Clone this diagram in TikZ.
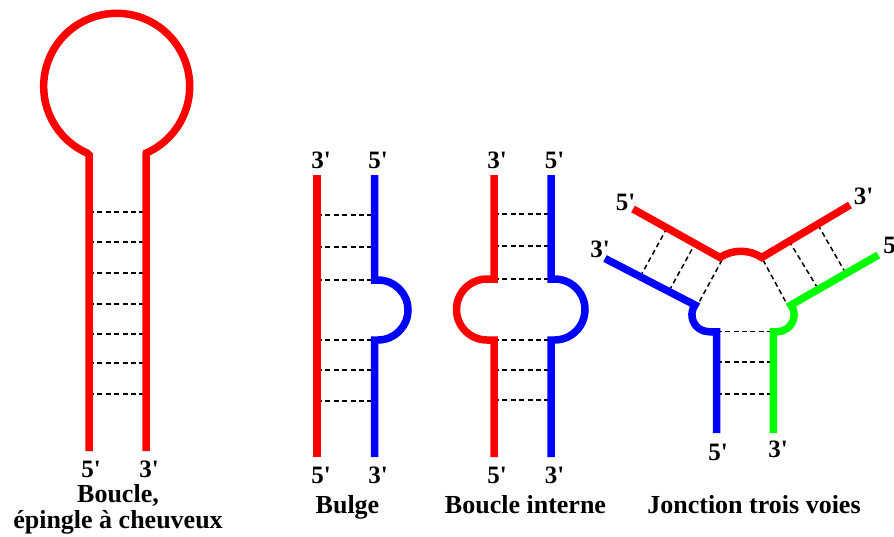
\documentclass[tikz,border=0pt]{standalone}
\usepackage{fontspec}
\setmainfont{Liberation Serif}
\newcommand{\fiveend}{5\textquotesingle}
\newcommand{\threeend}{3\textquotesingle}

\begin{document}
\begin{tikzpicture}[x=1pt, y=1pt, yscale=-1,
    strand/.style={line width=7.5pt},
    pair/.style={line width=1.5pt, dash pattern=on 5pt off 3.4pt},
    lab/.style={font=\fontsize{25}{26}\selectfont\bfseries, anchor=base, inner sep=0pt},
    titre/.style={font=\fontsize{26}{28}\selectfont\bfseries, anchor=base, inner sep=0pt}]
    \useasboundingbox (0,0) rectangle (894,536);

    % boucle, epingle a cheuveux
    \foreach \y in {212,242,273,304,334,363,394}
    \draw[pair] (89,\y) -- (146,\y);
    \draw[strand,red] (89,451) -- (89,155) -- (87,153) arc[start angle=114, end angle=426, radius=73] -- (146,155) -- (146,451);
    \node[lab] (ep5) at (91,477) {\fiveend};
    \node[lab] (ep3) at (149,477) {\threeend};
    \node[titre] (eptitre) at (118,502) {Boucle,};
    \node[titre] (eptitrebis) at (118,528) {épingle à cheuveux};

    % bulge
    \foreach \y in {215,247,280,340,370,401}
    \draw[pair] (317,\y) -- (374.5,\y);
    \draw[strand,red] (317,175) -- (317,457);
    \draw[strand,blue] (374.5,175) -- (374.5,280) -- (378,280) arc[start angle=-90, end angle=90, radius=30] -- (374.5,340) -- (374.5,457);
    \node[lab] (bu3) at (321,168) {\threeend};
    \node[lab] (bu5) at (378,168) {\fiveend};
    \node[lab] (bu5b) at (321,483) {\fiveend};
    \node[lab] (bu3b) at (378,483) {\threeend};
    \node[titre] (butitre) at (347.5,513) {Bulge};

    % boucle interne
    \foreach \y in {214,246,279,340,370,400}
    \draw[pair] (494,\y) -- (551,\y);
    \draw[strand,red] (494,175) -- (494,279) -- (487,279) arc[start angle=270, end angle=90, radius=30.5] -- (494,340) -- (494,457);
    \draw[strand,blue] (551,175) -- (551,279) -- (554.5,279) arc[start angle=-90, end angle=90, radius=30.5] -- (551,340) -- (551,457);
    \node[lab] (bi3) at (497,168) {\threeend};
    \node[lab] (bi5) at (554.5,168) {\fiveend};
    \node[lab] (bi5b) at (497,483) {\fiveend};
    \node[lab] (bi3b) at (554.5,483) {\threeend};
    \node[titre] (bititre) at (525.5,513) {Boucle interne};

    % jonction trois voies
    \foreach \xa/\ya/\xb/\yb in {667/228/640/277, 696/242/669/291, 722/260/697/306,
                                 789/241/817/287, 818/225/845/272, 763/260/788/306,
                                 716.7/331.7/773.3/331.7, 716.7/362/773.3/362, 716.7/394/773.3/394}
    \draw[pair] (\xa,\ya) -- (\xb,\yb);
    \draw[strand,red] (633,209) -- (720,257.5) arc[start angle=236.7, end angle=303.3, radius=38] -- (850,205);
    \draw[strand,blue] (605,258.5) -- (695,305) arc[start angle=215, end angle=90, radius=17] -- (716.7,331.75) -- (716.7,433);
    \draw[strand,green] (878.3,255) -- (791,305) arc[start angle=-35, end angle=90, radius=17] -- (773.3,331.75) -- (773.3,433);
    \node[lab] (jr5) at (625.5,210) {\fiveend};
    \node[lab] (jb3) at (600,257) {\threeend};
    \node[lab] (jr3) at (863.5,204) {\threeend};
    \node[lab] (jg5) at (893,253) {\fiveend};
    \node[lab] (jb5) at (718,460) {\fiveend};
    \node[lab] (jg3) at (778,457) {\threeend};
    \node[titre] (jtitre) at (754,513) {Jonction trois voies};
\end{tikzpicture}
\end{document}
